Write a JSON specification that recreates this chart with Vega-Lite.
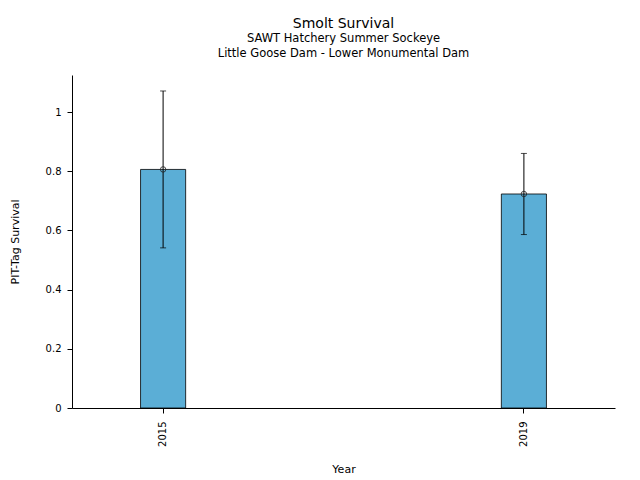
{
  "$schema": "https://vega.github.io/schema/vega-lite/v6.json",
  "autosize": "none",
  "width": 543,
  "height": 333,
  "padding": {"left": 72, "top": 75, "right": 25, "bottom": 72},
  "background": "white",
  "title": {
    "text": "Smolt Survival",
    "subtitle": ["SAWT Hatchery Summer Sockeye", "Little Goose Dam - Lower Monumental Dam"],
    "anchor": "middle",
    "fontSize": 14,
    "fontWeight": "normal",
    "subtitleFontSize": 11.5,
    "subtitleFontWeight": "normal",
    "subtitleLineHeight": 15,
    "subtitlePadding": 2,
    "color": "black",
    "subtitleColor": "black",
    "font": "DejaVu Sans",
    "subtitleFont": "DejaVu Sans",
    "offset": 16
  },
  "data": {
    "values": [
      {"year": "2015", "survival": 0.806, "lower": 0.541, "upper": 1.071},
      {"year": "2019", "survival": 0.723, "lower": 0.586, "upper": 0.860}
    ]
  },
  "encoding": {
    "x": {
      "field": "year",
      "type": "ordinal",
      "scale": {"paddingInner": 0.875, "paddingOuter": 0.19},
      "axis": {"title": "Year", "labelAngle": -90, "tickSize": 5, "labelPadding": 8, "titlePadding": 17}
    }
  },
  "layer": [
    {
      "mark": {"type": "bar", "color": "#5baed6", "stroke": "black", "strokeWidth": 0.8},
      "encoding": {
        "y": {
          "field": "survival",
          "type": "quantitative",
          "scale": {"domain": [0, 1.125], "nice": false},
          "axis": {"title": "PIT-Tag Survival", "values": [0, 0.2, 0.4, 0.6, 0.8, 1], "format": "~g", "tickSize": 5, "labelPadding": 6, "titlePadding": 25}
        }
      }
    },
    {
      "mark": {"type": "rule", "color": "black", "strokeWidth": 1},
      "encoding": {
        "y": {"field": "lower", "type": "quantitative"},
        "y2": {"field": "upper"}
      }
    },
    {
      "mark": {"type": "tick", "color": "black", "size": 6, "thickness": 1},
      "encoding": {"y": {"field": "upper", "type": "quantitative"}}
    },
    {
      "mark": {"type": "tick", "color": "black", "size": 6, "thickness": 1},
      "encoding": {"y": {"field": "lower", "type": "quantitative"}}
    },
    {
      "mark": {"type": "point", "shape": "circle", "filled": false, "size": 30, "stroke": "#222", "strokeWidth": 0.8, "opacity": 1},
      "encoding": {"y": {"field": "survival", "type": "quantitative"}}
    }
  ],
  "config": {
    "font": "DejaVu Sans",
    "view": {"stroke": null},
    "title": {"fontWeight": "normal"},
    "axis": {
      "grid": false,
      "labelFontSize": 10,
      "titleFontSize": 11,
      "titleFontWeight": "normal",
      "labelColor": "black",
      "titleColor": "black",
      "domainColor": "black",
      "tickColor": "black",
      "labelFont": "DejaVu Sans",
      "titleFont": "DejaVu Sans"
    }
  }
}
